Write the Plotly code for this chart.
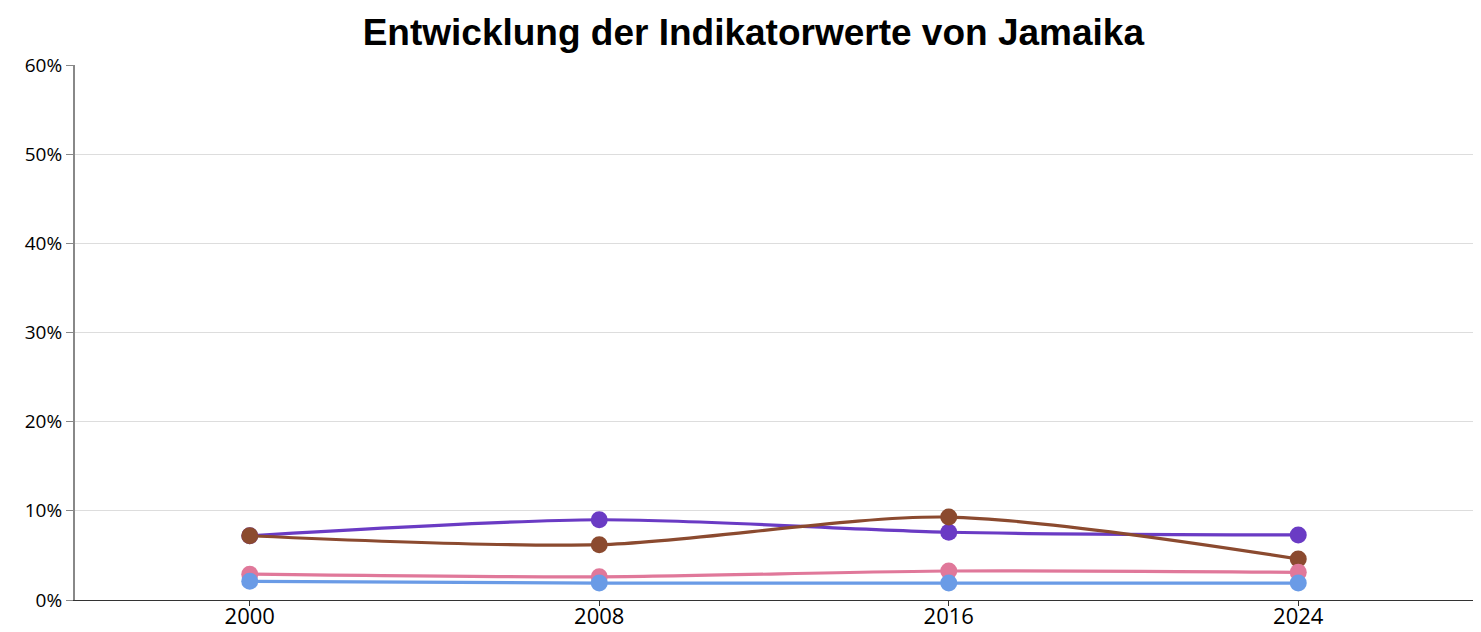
import plotly.graph_objects as go

years = [2000, 2008, 2016, 2024]
purple_vals = [7.2, 9.0, 7.6, 7.3]
brown_vals = [7.2, 6.2, 9.3, 4.6]
pink_vals = [2.9, 2.6, 3.25, 3.1]
blue_vals = [2.1, 1.9, 1.9, 1.9]
y_ticks = [0, 10, 20, 30, 40, 50, 60]
y_labels = [f"{v}%" for v in y_ticks]

series = [
    ("Indikator 1", purple_vals, "#6A3BC4"),
    ("Indikator 2", brown_vals, "#8B4A2F"),
    ("Indikator 3", pink_vals, "#E0789A"),
    ("Indikator 4", blue_vals, "#6A9BE6"),
]

fig = go.Figure()
for name, vals, color in series:
    fig.add_trace(go.Scatter(
        x=years, y=vals, name=name, mode="lines+markers",
        line=dict(color=color, width=3.2, shape="spline", smoothing=0.8),
        marker=dict(color=color, size=17),
        showlegend=False,
    ))

# page body has an 8px margin, so the figure is sized to fit 1481x632 window
fig.update_layout(
    width=1473, height=624,
    margin=dict(l=67, r=8, t=57, b=32),
    paper_bgcolor="white", plot_bgcolor="white",
    title=dict(text="<b>Entwicklung der Indikatorwerte von Jamaika</b>",
               x=0.506, xanchor="center", xref="container",
               y=0.9615, yanchor="middle", yref="container",
               font=dict(family="Liberation Sans, Arial", size=37, color="black")),
    font=dict(family="Open Sans", size=16, color="black"),
)
fig.update_xaxes(
    range=[1996, 2028], tickvals=years, ticktext=[str(y) for y in years],
    showgrid=False, showline=True, linecolor="#333", linewidth=1,
    ticks="outside", ticklen=5, tickcolor="#333",
    tickfont=dict(size=22), zeroline=False, automargin=False,
    ticklabelstandoff=-8,
)
fig.update_yaxes(
    range=[0, 60], tickvals=y_ticks, ticktext=y_labels,
    showgrid=True, gridcolor="#dddddd", gridwidth=1,
    showline=True, linecolor="#888", linewidth=2,
    ticks="outside", ticklen=7, tickcolor="#888",
    tickfont=dict(size=19), zeroline=False, automargin=False,
)

fig.write_html("out.html")
